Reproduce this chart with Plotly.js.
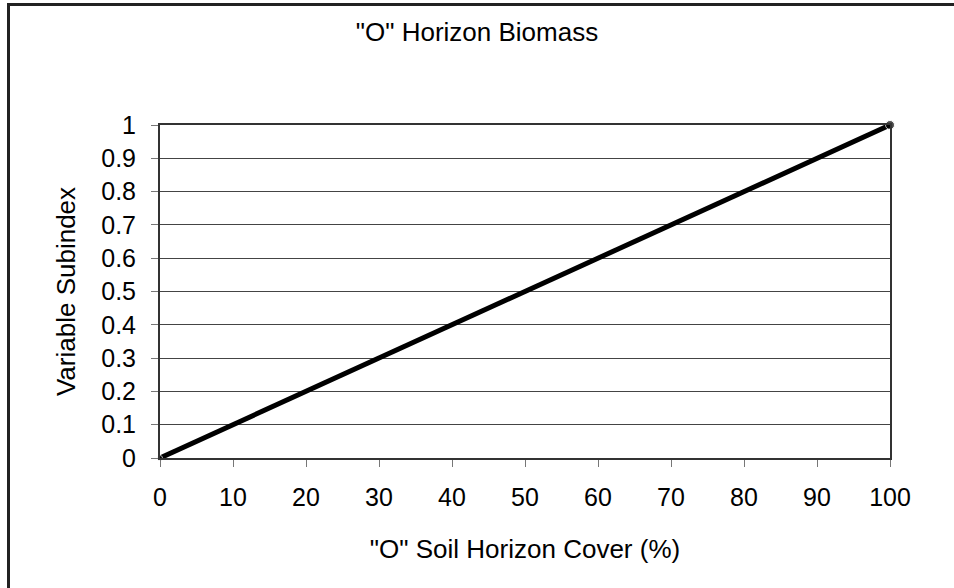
<!DOCTYPE html>
<html>
<head>
<meta charset="utf-8">
<script src="https://cdn.plot.ly/plotly-3.0.1.min.js"></script>
<style>
  html, body { margin: 0; padding: 0; background: #fff; }
  #wrap { position: relative; width: 954px; height: 588px; overflow: hidden; }
  #chart { width: 954px; height: 588px; }
  #frame { position: absolute; left: 7px; top: 3px; width: 960px; height: 600px;
           border-top: 3px solid #222; border-left: 3px solid #222; pointer-events: none; }
</style>
</head>
<body>
<div id="wrap">
  <div id="chart"></div>
  <div id="frame"></div>
</div>
<script>
// Data
const coverPct = [0, 100];
const subindex = [0, 1];
const xTicks = [0, 10, 20, 30, 40, 50, 60, 70, 80, 90, 100];
const yTicks = [0, 0.1, 0.2, 0.3, 0.4, 0.5, 0.6, 0.7, 0.8, 0.9, 1];
const yTickLabels = ['0', '0.1', '0.2', '0.3', '0.4', '0.5', '0.6', '0.7', '0.8', '0.9', '1'];
const chartTitle = '"O" Horizon Biomass';
const xTitle = '"O" Soil Horizon Cover (%)';
const yTitle = 'Variable Subindex';

const font = 'Arial, "Liberation Sans", sans-serif';

const trace = {
  x: coverPct,
  y: subindex,
  type: 'scatter',
  mode: 'lines+markers',
  line: { color: '#000', width: 5 },
  marker: { color: '#000', size: [5, 9] },
  cliponaxis: false,
  hoverinfo: 'x+y'
};

const layout = {
  width: 954,
  height: 588,
  paper_bgcolor: '#fff',
  plot_bgcolor: '#fff',
  margin: { l: 160, r: 64, t: 125, b: 130 },
  showlegend: false,
  font: { family: font, size: 25, color: '#000' },
  title: {
    text: chartTitle,
    font: { family: font, size: 26, color: '#000' },
    x: 477 / 954, xref: 'container', xanchor: 'center',
    y: 1 - 32 / 588, yref: 'container', yanchor: 'middle'
  },
  xaxis: {
    range: [0, 100],
    tickmode: 'array',
    tickvals: xTicks,
    ticktext: xTicks.map(String),
    ticks: 'outside',
    ticklen: 7,
    tickwidth: 1,
    tickcolor: '#777',
    ticklabelstandoff: 9,
    showgrid: false,
    zeroline: false,
    showline: true,
    linecolor: '#333',
    linewidth: 2,
    mirror: true,
    tickfont: { family: font, size: 25, color: '#000' },
    title: { text: xTitle, font: { family: font, size: 26, color: '#000' }, standoff: 30 },
    fixedrange: true
  },
  yaxis: {
    range: [0, 1],
    tickmode: 'array',
    tickvals: yTicks,
    ticktext: yTickLabels,
    ticks: 'outside',
    ticklen: 7,
    tickwidth: 1,
    tickcolor: '#777',
    ticklabelstandoff: 10,
    showgrid: true,
    gridcolor: '#444',
    gridwidth: 1,
    zeroline: false,
    showline: true,
    linecolor: '#333',
    linewidth: 2,
    mirror: true,
    tickfont: { family: font, size: 25, color: '#000' },
    title: { text: yTitle, font: { family: font, size: 26, color: '#000' }, standoff: 18 },
    fixedrange: true
  }
};

Plotly.newPlot('chart', [trace], layout, { displayModeBar: false });
</script>
</body>
</html>
